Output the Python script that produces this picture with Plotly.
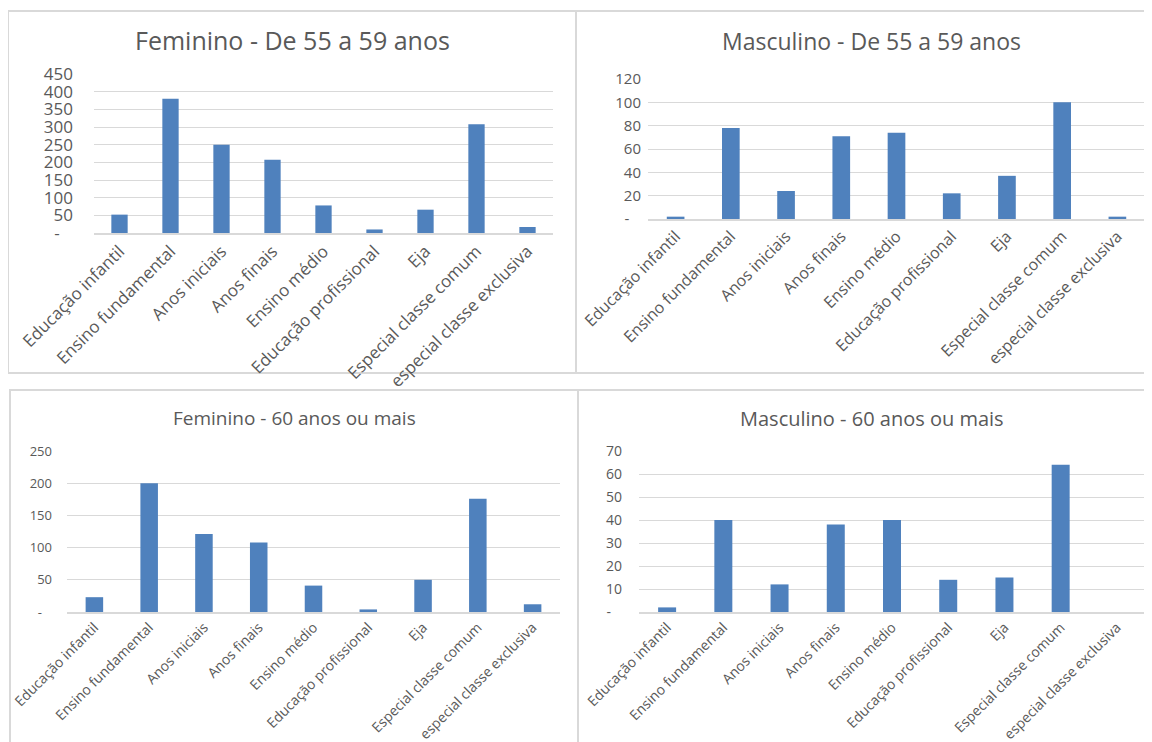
import plotly.graph_objects as go
from plotly.subplots import make_subplots

# Categories (same for all four charts)
categorias = [
    "Educação infantil", "Ensino fundamental", "Anos iniciais", "Anos finais",
    "Ensino médio", "Educação profissional", "Eja", "Especial classe comum",
    "especial classe exclusiva",
]

# Values
fem_55_59 = [52, 380, 250, 207, 78, 10, 66, 308, 17]
masc_55_59 = [2, 78, 24, 71, 74, 22, 37, 100, 2]
fem_60 = [23, 200, 121, 108, 41, 4, 50, 176, 12]
masc_60 = [2, 40, 12, 38, 40, 14, 15, 64, 0]

titulos = [
    "Feminino - De 55 a 59 anos", "Masculino - De 55 a 59 anos",
    "Feminino - 60 anos ou mais", "Masculino - 60 anos ou mais",
]

# y ticks per chart (zero is shown as "-" like Excel accounting format)
ticks_fem_55_59 = [0, 50, 100, 150, 200, 250, 300, 350, 400, 450]
ticks_masc_55_59 = [0, 20, 40, 60, 80, 100, 120]
ticks_fem_60 = [0, 50, 100, 150, 200, 250]
ticks_masc_60 = [0, 10, 20, 30, 40, 50, 60, 70]

W, H = 1152, 742
OFF = 8  # the page body margin shifts the figure by 8px
azul = "#4F81BD"
cinza_txt = "#595959"
cinza_grid = "#D9D9D9"
fonte = "Open Sans"
nb = "\u00a0"

fig = make_subplots(rows=2, cols=2)

series = [fem_55_59, masc_55_59, fem_60, masc_60]
ticks = [ticks_fem_55_59, ticks_masc_55_59, ticks_fem_60, ticks_masc_60]

# plot areas in screen pixels: (x0, x1, y_top, y_bottom)
areas = [
    (94, 553, 74, 233),
    (648, 1145, 79, 219),
    (67, 560, 451, 612),
    (639, 1145, 451, 612),
]
# panel frames in screen pixels: (x0, y0, x1, y1)
frames = [
    (8, 11, 576, 373),
    (576, 11, 1170, 373),
    (10, 390, 578, 760),
    (578, 390, 1170, 760),
]
title_pos = [(292, 40, 25), (871, 41, 23), (294, 418, 19), (872, 418, 20)]
ytick_size = [17, 15, 13, 14]
xtick_size = [17, 16, 14, 14]
standoff = [20, 6, 14, 16]

def px(x):
    return (x - OFF) / W

def py(y):
    return 1 - (y - OFF) / H

for i, vals in enumerate(series):
    r, c = i // 2 + 1, i % 2 + 1
    fig.add_trace(
        go.Bar(x=categorias, y=vals, marker=dict(color=azul, line=dict(width=0)),
               showlegend=False),
        row=r, col=c,
    )
    x0, x1, yt, yb = areas[i]
    n = "" if i == 0 else str(i + 1)
    tv = ticks[i]
    fig.layout["xaxis" + n].update(
        domain=[px(x0), px(x1)], tickangle=-45, showgrid=False, automargin=False,
        showline=True, linecolor=cinza_grid, linewidth=1.5,
        tickfont=dict(size=xtick_size[i], color=cinza_txt, family=fonte),
        ticks="",
    )
    fig.layout["yaxis" + n].update(
        domain=[py(yb), py(yt)], range=[0, tv[-1]], automargin=False,
        tickvals=tv, ticktext=["-" + nb * 3] + [str(v) for v in tv[1:]],
        showgrid=True, gridcolor=cinza_grid, gridwidth=1, zeroline=False,
        showline=False, ticks="", ticklabelstandoff=standoff[i],
        tickfont=dict(size=ytick_size[i], color=cinza_txt, family=fonte),
    )
    tx, ty, ts = title_pos[i]
    fig.add_annotation(
        text=titulos[i], x=px(tx), y=py(ty), xref="paper", yref="paper",
        showarrow=False, xanchor="center", yanchor="middle",
        font=dict(size=ts, color=cinza_txt, family=fonte),
    )
    fx0, fy0, fx1, fy1 = frames[i]
    fig.add_shape(
        type="rect", xref="paper", yref="paper",
        x0=px(fx0), x1=px(fx1), y0=py(fy1), y1=py(fy0),
        line=dict(color=cinza_grid, width=2), layer="below",
    )

fig.update_layout(
    width=W, height=H, margin=dict(l=0, r=0, t=0, b=0, autoexpand=False),
    template="none", plot_bgcolor="white", paper_bgcolor="white",
    bargap=0.68, font=dict(family=fonte, color=cinza_txt),
)

fig.write_html("out.html")
